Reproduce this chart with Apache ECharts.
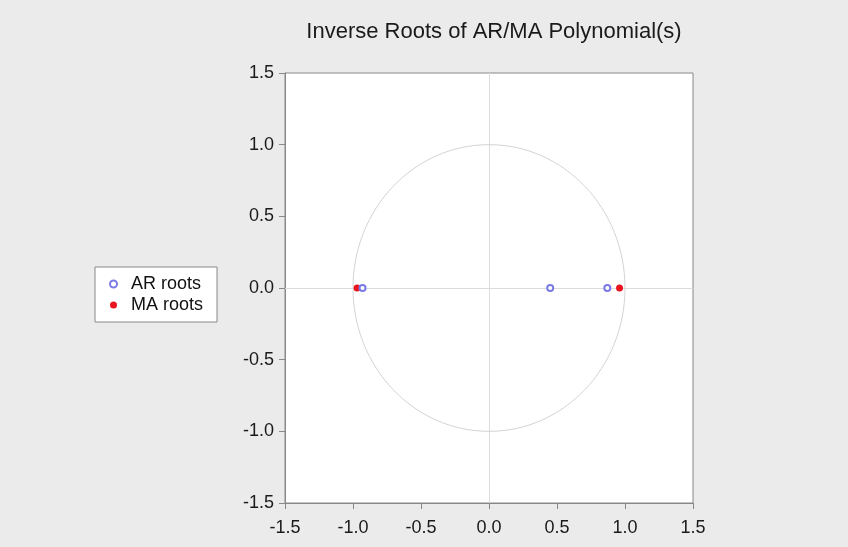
<!DOCTYPE html>
<html><head><meta charset="utf-8">
<script src="https://cdn.jsdelivr.net/npm/echarts@6/dist/echarts.min.js"></script>
<style>html,body{margin:0;padding:0;background:#ebebeb}#c{width:848px;height:547px}</style>
</head><body><div id="c"></div>
<script>
const titleText = 'Inverse Roots of AR/MA Polynomial(s)';
const seriesNames = ['AR roots', 'MA roots'];
const arRoots = [[-0.93, 0], [0.45, 0], [0.87, 0]];
const maRoots = [[-0.97, 0], [0.96, 0]];
const unitCircle = [[0, 0, 1]];
const axisTicks = [-1.5, -1.0, -0.5, 0.0, 0.5, 1.0, 1.5];

const font = 'Liberation Sans, Arial, sans-serif';
const chart = echarts.init(document.getElementById('c'));
const axisCommon = {
  type: 'value', min: -1.5, max: 1.5, interval: 0.5,
  axisLine: {show: true, onZero: false, lineStyle: {color: '#888', width: 1}},
  axisTick: {show: true, length: 6, lineStyle: {color: '#888'}},
  splitLine: {show: false},
  axisLabel: {color: '#1a1a1a', fontSize: 18, fontFamily: font, formatter: v => v.toFixed(1)}
};
chart.setOption({
  backgroundColor: '#ebebeb',
  animation: false,
  title: {text: titleText, left: 489, top: 16, textAlign: 'center',
    textStyle: {fontSize: 22, fontWeight: 'normal', color: '#1a1a1a', fontFamily: font}},
  grid: {left: 285, right: 155, top: 73, bottom: 44, show: true, backgroundColor: '#fff', borderColor: '#888', borderWidth: 1},
  xAxis: Object.assign({}, axisCommon, {axisLabel: Object.assign({}, axisCommon.axisLabel, {margin: 16})}),
  yAxis: Object.assign({}, axisCommon, {axisLabel: Object.assign({}, axisCommon.axisLabel, {margin: 11})}),
  legend: {
    orient: 'vertical', left: 95, top: 267,
    backgroundColor: '#fff', borderColor: '#888', borderWidth: 1,
    padding: [8, 14, 8, 14], itemGap: 3, itemWidth: 7, itemHeight: 7,
    textStyle: {fontSize: 18, color: '#111', fontFamily: font, padding: [0, 0, 0, 9]},
    data: [{name: seriesNames[0], icon: 'emptyCircle'}, {name: seriesNames[1], icon: 'circle'}]
  },
  series: [
    {
      type: 'custom', silent: true, z: 1,
      renderItem: function (params, api) {
        const c = api.coord([api.value(0), api.value(1)]);
        const s = api.size([api.value(2), api.value(2)]);
        return {type: 'ellipse', shape: {cx: c[0], cy: c[1], rx: s[0], ry: s[1]},
          style: {fill: 'none', stroke: '#d4d4d4', lineWidth: 1}};
      },
      data: unitCircle,
      markLine: {
        silent: true, symbol: ['none', 'none'], label: {show: false}, z: 1,
        lineStyle: {color: '#dcdcdc', type: 'solid', width: 1},
        data: [{xAxis: 0}, {yAxis: 0}]
      }
    },
    {
      name: seriesNames[0], type: 'scatter', symbol: 'emptyCircle', symbolSize: 6, z: 6,
      itemStyle: {color: '#7a7ae6', borderColor: '#7a7ae6', borderWidth: 1.3, opacity: 1},
      data: arRoots
    },
    {
      name: seriesNames[1], type: 'scatter', symbol: 'circle', symbolSize: 7, z: 5,
      itemStyle: {color: '#e8141e', opacity: 1},
      data: maRoots
    }
  ]
});
</script></body></html>
